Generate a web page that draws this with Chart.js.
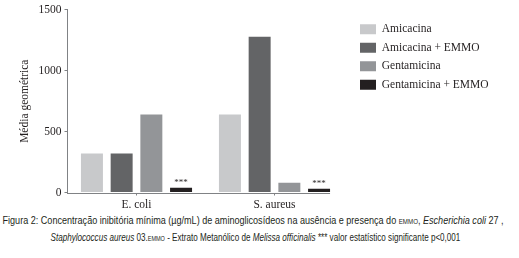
<!DOCTYPE html>
<html>
<head>
<meta charset="utf-8">
<script src="https://cdn.jsdelivr.net/npm/chart.js@4.4.1/dist/chart.umd.min.js"></script>
<style>
  html, body { margin:0; padding:0; background:#fff; }
  #wrap { position:relative; width:519px; height:258px; overflow:hidden; }
  #box { position:absolute; left:0; top:0; width:519px; height:212px; }
  .cap { position:absolute; white-space:nowrap; font-family:"Liberation Sans Narrow","Liberation Sans",sans-serif;
         font-size:11px; line-height:14px; color:#231f20; transform-origin:center; }
  .sc { font-size:7.5px; }
</style>
</head>
<body>
<div id="wrap">
  <div id="box"><canvas id="chart"></canvas></div>
  <span class="cap" id="cap1" data-cx="252.5" data-w="501" style="top:213px">Figura 2: Concentração inibitória mínima (µg/mL) de aminoglicosídeos na ausência e presença do <span class="sc">EMMO</span>, <i>Escherichia coli</i> 27 ,</span>
  <span class="cap" id="cap2" data-cx="255" data-w="410" style="top:229.5px"><i>Staphylococcus aureus</i> 03.<span class="sc">EMMO</span> - Extrato Metanólico de <i>Melissa officinalis</i> *** valor estatístico significante p&lt;0,001</span>
</div>
<script>
const categories      = ['E. coli', 'S. aureus'];
const seriesNames     = ['Amicacina', 'Amicacina + EMMO', 'Gentamicina', 'Gentamicina + EMMO'];
const amicacina       = [320, 640];
const amicacinaEmmo   = [320, 1280];
const gentamicina     = [640, 80];
const gentamicinaEmmo = [40, 30];
const significance    = ['***', '***'];
const yMax = 1500, yStep = 500;

const barColors = ['#c8c9cb', '#636466', '#939598', '#231f20'];
const axisColor = '#808285';
const serif = '"Liberation Serif", serif';

Chart.defaults.font.family = serif;
Chart.defaults.font.size = 11.5;
Chart.defaults.color = '#231f20';

// x axis line stops at the last bar, like the original
const axisLine = {
  id: 'axisLine',
  beforeDatasetsDraw(chart) {
    const { ctx, chartArea } = chart;
    const meta = chart.getDatasetMeta(chart.data.datasets.length - 1);
    const last = meta.data[meta.data.length - 1];
    const y = Math.round(chartArea.bottom) + 0.5;
    ctx.save();
    ctx.strokeStyle = axisColor; ctx.lineWidth = 1;
    ctx.beginPath(); ctx.moveTo(chartArea.left - 0.5, y); ctx.lineTo(last.x + last.width / 2, y); ctx.stroke();
    ctx.restore();
  }
};

// category names under the x ticks, and *** over the Gentamicina + EMMO bars
const textMarks = {
  id: 'textMarks',
  afterDatasetsDraw(chart) {
    const { ctx, chartArea } = chart;
    const xs = chart.scales.x;
    ctx.save();
    ctx.fillStyle = '#231f20'; ctx.textAlign = 'center';
    ctx.font = '11.5px ' + serif; ctx.textBaseline = 'middle';
    chart.data.labels.forEach((lab, i) => ctx.fillText(lab, xs.getPixelForTick(i), chartArea.bottom + 12));
    ctx.font = '9px ' + serif; ctx.textBaseline = 'bottom';
    chart.getDatasetMeta(3).data.forEach((bar, i) => ctx.fillText(significance[i], bar.x, bar.y - 0.5));
    ctx.restore();
  }
};

// legend sits to the right of the plot, pinned next to it
const legendPlace = {
  id: 'legendPlace',
  afterUpdate(chart) {
    const lg = chart.legend;
    lg.left = 353; lg.top = 16.5; lg.right = 519; lg.bottom = 200;
    lg.width = lg.right - lg.left; lg.height = lg.bottom - lg.top;
  }
};

const seriesData = [amicacina, amicacinaEmmo, gentamicina, gentamicinaEmmo];

new Chart(document.getElementById('chart'), {
  type: 'bar',
  data: {
    labels: categories,
    datasets: seriesNames.map((name, i) => ({
      label: name, data: seriesData[i], backgroundColor: barColors[i], borderWidth: 0,
      categoryPercentage: 0.861, barPercentage: 0.74
    }))
  },
  options: {
    responsive: true, maintainAspectRatio: false, animation: false,
    layout: { padding: { top: 9.5, left: 0, right: 174.5, bottom: 0 } },
    plugins: {
      legend: {
        position: 'right', align: 'start', maxWidth: 1,
        labels: { boxWidth: 16, boxHeight: 10, padding: 7, color: '#231f20', font: { size: 11.5 } }
      },
      tooltip: { enabled: false }
    },
    scales: {
      x: {
        grid: { offset: false, drawOnChartArea: false, tickLength: 3, color: axisColor },
        border: { display: false },
        ticks: { display: false },
        afterFit: s => { s.height = 19.5; }
      },
      y: {
        min: 0, max: yMax,
        ticks: { stepSize: yStep, padding: 3, font: { size: 11.5 }, callback: v => String(v) },
        grid: { drawOnChartArea: false, tickLength: 3, color: axisColor },
        border: { color: axisColor },
        title: { display: true, text: 'Média geométrica', font: { size: 11.5 }, padding: { top: 18, bottom: 0 } },
        afterFit: s => { s.width = 67.5; }
      }
    }
  },
  plugins: [axisLine, textMarks, legendPlace]
});

// squeeze the caption lines to the width of the printed ones
document.querySelectorAll('.cap').forEach(el => {
  const w = el.offsetWidth, cx = +el.dataset.cx, target = +el.dataset.w;
  el.style.left = (cx - w / 2) + 'px';
  el.style.transform = `scaleX(${target / w})`;
});
</script>
</body>
</html>
